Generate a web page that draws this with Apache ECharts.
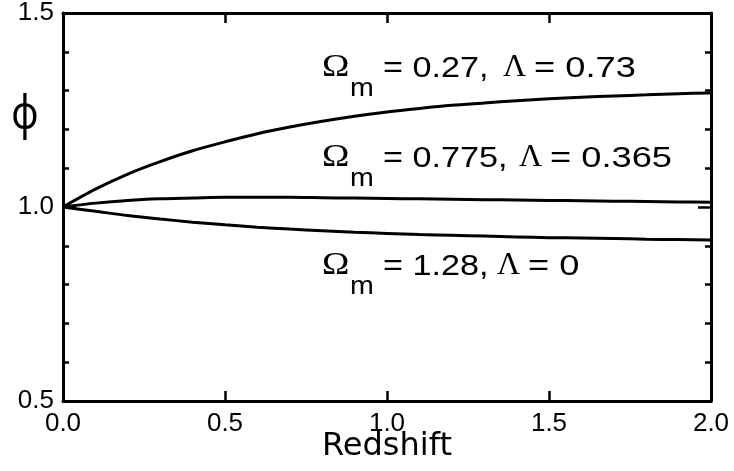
<!DOCTYPE html>
<html><head><meta charset="utf-8">
<script src="https://cdn.jsdelivr.net/npm/echarts@6/dist/echarts.min.js"></script>
<style>html,body{margin:0;padding:0;background:#fff}#c{width:734px;height:471px}</style>
</head><body><div id="c"></div>
<script>
// ---- data ----
const redshift = [0,0.1,0.2,0.3,0.4,0.5,0.6,0.7,0.8,0.9,1.0,1.1,1.2,1.3,1.4,1.5,1.6,1.7,1.8,1.9,2.0];
const phiOm027 = [1.000,1.046,1.085,1.117,1.145,1.168,1.189,1.206,1.221,1.234,1.245,1.254,1.262,1.268,1.274,1.279,1.283,1.286,1.289,1.292,1.294];
const phiOm0775 = [1.000,1.010,1.017,1.021,1.023,1.025,1.025,1.025,1.024,1.023,1.022,1.021,1.020,1.019,1.018,1.017,1.016,1.015,1.014,1.013,1.012];
const phiOm128 = [1.000,0.989,0.978,0.969,0.961,0.954,0.948,0.943,0.939,0.935,0.932,0.929,0.927,0.925,0.923,0.921,0.920,0.919,0.917,0.916,0.915];
const annOmegaM = ['0.27','0.775','1.28'];
const annLambda = ['0.73','0.365','0'];
const xTitle = 'Redshift';
const yTitle = 'φ';

// ---- layout (pixels) ----
const annBaseline = [78, 168, 276];
const annLambdaX = [503, 519, 497];

const zip = v => redshift.map((z, i) => [z, v[i]]);
const chart = echarts.init(document.getElementById('c'), null, {renderer: 'canvas'});
const sans = 'Liberation Sans';
const serif = 'Liberation Serif';
const black = '#000';

function lineSeries(name, vals) {
  return {
    name, type: 'line', data: zip(vals), smooth: 0.3, showSymbol: false, symbol: 'none',
    lineStyle: {color: black, width: 3}, z: 3, animation: false
  };
}

const graphics = [];
annOmegaM.forEach((om, i) => {
  const b = annBaseline[i];
  graphics.push({type: 'text', x: 322, y: b - 10, scaleX: 1.15,
    style: {text: 'Ω', font: `32px "${serif}"`, fill: black, align: 'left', verticalAlign: 'middle'}});
  graphics.push({type: 'text', x: 350, y: b + 11, scaleX: 1.1,
    style: {text: 'm', font: `26px "${sans}"`, fill: black, align: 'left', verticalAlign: 'middle'}});
  graphics.push({type: 'text', x: 383, y: b - 9, scaleX: 1.18,
    style: {text: '= ' + om + ',', font: `29px "${sans}"`, fill: black, align: 'left', verticalAlign: 'middle'}});
  graphics.push({type: 'text', x: annLambdaX[i], y: b - 10,
    style: {text: 'Λ', font: `32px "${serif}"`, fill: black, align: 'left', verticalAlign: 'middle'}});
  graphics.push({type: 'text', x: annLambdaX[i] + 31, y: b - 9, scaleX: 1.25,
    style: {text: '= ' + annLambda[i], font: `29px "${sans}"`, fill: black, align: 'left', verticalAlign: 'middle'}});
});
graphics.push({type: 'text', x: 25, y: 116, scaleX: 0.8,
  style: {text: yTitle, font: `47px "Noto Sans"`, fill: black, align: 'center', verticalAlign: 'middle'}});

const axisLineStyle = {color: black, width: 3};
const tickLabel = {color: black, fontFamily: sans, fontSize: 26};

chart.setOption({
  animation: false,
  backgroundColor: '#fff',
  grid: {left: 63, right: 23, top: 13, bottom: 70, containLabel: false, outerBoundsMode: 'none'},
  xAxis: [{
    type: 'value', min: 0, max: 2, interval: 0.5, position: 'bottom',
    axisLine: {show: true, onZero: false, lineStyle: axisLineStyle},
    axisTick: {show: true, inside: true, length: 10, lineStyle: {color: black, width: 2.5}},
    splitLine: {show: false},
    axisLabel: {show: true, margin: 10, formatter: v => v.toFixed(1), ...tickLabel},
    name: xTitle, nameLocation: 'middle', nameGap: 30, nameMoveOverlap: false,
    nameTextStyle: {color: black, fontFamily: 'DejaVu Sans', fontSize: 32}
  }, {
    type: 'value', min: 0, max: 2, interval: 0.5, position: 'top',
    axisLine: {show: true, onZero: false, lineStyle: axisLineStyle},
    axisTick: {show: true, inside: true, length: 10, lineStyle: {color: black, width: 2.5}},
    splitLine: {show: false}, axisLabel: {show: false}
  }],
  yAxis: [{
    type: 'value', min: 0.5, max: 1.5, interval: 0.5, position: 'left',
    axisLine: {show: true, onZero: false, lineStyle: axisLineStyle},
    axisTick: {show: true, inside: true, length: 13, lineStyle: {color: black, width: 2.5}},
    minorTick: {show: true, splitNumber: 5, length: 6, lineStyle: {color: black, width: 2.5}},
    splitLine: {show: false}, minorSplitLine: {show: false},
    axisLabel: {show: true, margin: 9, formatter: v => v.toFixed(1), ...tickLabel}
  }, {
    type: 'value', min: 0.5, max: 1.5, interval: 0.5, position: 'right',
    axisLine: {show: true, onZero: false, lineStyle: axisLineStyle},
    axisTick: {show: true, inside: true, length: 13, lineStyle: {color: black, width: 2.5}},
    minorTick: {show: true, splitNumber: 5, length: 6, lineStyle: {color: black, width: 2.5}},
    splitLine: {show: false}, minorSplitLine: {show: false},
    axisLabel: {show: false}
  }],
  series: [
    lineSeries('Ωm = 0.27, Λ = 0.73', phiOm027),
    lineSeries('Ωm = 0.775, Λ = 0.365', phiOm0775),
    lineSeries('Ωm = 1.28, Λ = 0', phiOm128)
  ],
  graphic: graphics
});
</script></body></html>
